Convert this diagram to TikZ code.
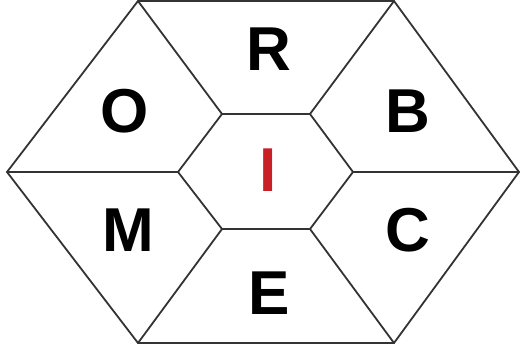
\documentclass[tikz,border=0pt]{standalone}
\usepackage{fontspec}
\setmainfont{Liberation Sans}
\definecolor{iletter}{RGB}{200,32,38}
\tikzset{
  edge/.style={line width=1.8pt, draw=black!80, line join=miter},
  letter/.style={inner sep=0pt, font=\fontsize{62}{64}\selectfont\bfseries}
}
\begin{document}
\begin{tikzpicture}[x=1pt, y=-1pt]
    \useasboundingbox (0,0) rectangle (520,350);

    % Outer hexagon corners
    \coordinate (o1) at (138,1);
    \coordinate (o2) at (394,1);
    \coordinate (o3) at (519,172);
    \coordinate (o4) at (394,343);
    \coordinate (o5) at (138,343);
    \coordinate (o6) at (7,172);

    % Inner hexagon corners
    \coordinate (i1) at (222,114);
    \coordinate (i2) at (310,114);
    \coordinate (i3) at (353,172);
    \coordinate (i4) at (310,229);
    \coordinate (i5) at (222,229);
    \coordinate (i6) at (178,172);

    % Hexagons
    \draw[edge] (o1) -- (o2) -- (o3) -- (o4) -- (o5) -- (o6) -- cycle;
    \draw[edge] (i1) -- (i2) -- (i3) -- (i4) -- (i5) -- (i6) -- cycle;

    % Spokes
    \foreach \k in {1,...,6}
        \draw[edge] (i\k) -- (o\k);

    % Letters
    \node[letter] (R) at (269,49) {R};
    \node[letter] (O) at (125,111) {O};
    \node[letter] (B) at (408,111) {B};
    \node[letter, text=iletter] (I) at (268,170) {I};
    \node[letter] (M) at (128,230) {M};
    \node[letter] (C) at (408,230) {C};
    \node[letter] (E) at (269,293) {E};

\end{tikzpicture}
\end{document}
